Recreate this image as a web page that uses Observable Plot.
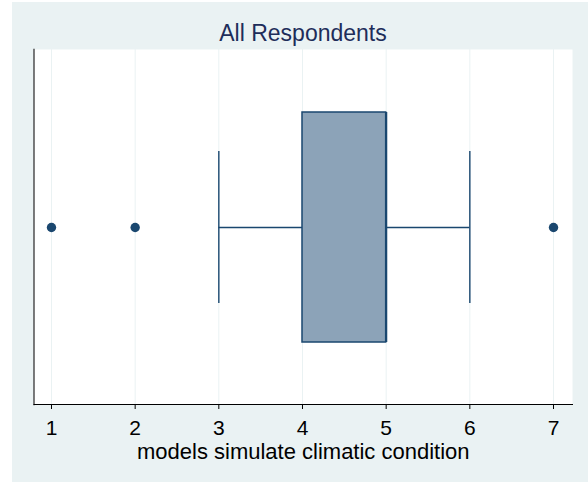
<!DOCTYPE html>
<html>
<head>
<meta charset="utf-8">
<script src="https://cdn.jsdelivr.net/npm/d3@7"></script>
<script src="https://cdn.jsdelivr.net/npm/@observablehq/plot@0.6"></script>
<style>
  html, body { margin: 0; padding: 0; background: #ffffff; }
  #wrap { position: absolute; left: 12px; top: 2px; width: 576px; height: 480px; background: #EAF2F3; font-family: "Liberation Sans", Arial, sans-serif; }
  #title { position: absolute; left: 0; width: 576px; top: 20px; text-align: center; font-size: 23px; line-height: 23px; color: #1E2D5A; padding-left: 6px; box-sizing: border-box; }
  #chart { position: absolute; left: 0; top: 47px; }
</style>
</head>
<body>
<div id="wrap">
  <div id="title">All Respondents</div>
  <div id="chart"></div>
</div>
<script>
// ---- data ----
const groups = ["All Respondents"];
const q1 = [4];
const median = [5];
const q3 = [5];
const lowerWhisker = [3];
const upperWhisker = [6];
const outlierValues = [1, 2, 7];
const xTicks = [1, 2, 3, 4, 5, 6, 7];
const xLabel = "models simulate climatic condition";

const stats = groups.map((g, i) => ({
  group: g, q1: q1[i], median: median[i], q3: q3[i],
  lo: lowerWhisker[i], hi: upperWhisker[i]
}));
const outliers = outlierValues.map(v => ({group: groups[0], value: v}));

const navy = "#1A476F";
const boxFill = "#8CA3B8";
const gridCol = "#EAF2F3";

const chart = Plot.plot({
  width: 576,
  height: 433,
  marginLeft: 21.5,
  marginRight: 16,
  marginTop: 0,
  marginBottom: 78,
  style: {background: "transparent", fontFamily: "'Liberation Sans', Arial, sans-serif", overflow: "visible"},
  x: {domain: [0.791, 7.227], ticks: xTicks, label: null},
  y: {domain: groups, paddingInner: 0, paddingOuter: 0.2717, axis: null, label: null},
  marks: [
    Plot.frame({fill: "white", stroke: null}),
    Plot.gridX(xTicks, {stroke: gridCol, strokeOpacity: 1, strokeWidth: 1}),
    Plot.frame({anchor: "left", stroke: "#444", strokeWidth: 1.4}),
    Plot.frame({anchor: "bottom", stroke: "#000", strokeWidth: 1}),
    Plot.axisX(xTicks, {
      tickSize: 5, tickPadding: 11, fontSize: 21, stroke: "#000", fill: "#000"
    }),
    Plot.axisX({
      ticks: [], tickSize: 0, fontSize: 22, fill: "#000",
      label: xLabel, labelAnchor: "center", labelOffset: 54, labelArrow: "none"
    }),
    // whiskers
    Plot.ruleY(stats, {y: "group", x1: "lo", x2: "q1", stroke: navy, strokeWidth: 1.4}),
    Plot.ruleY(stats, {y: "group", x1: "q3", x2: "hi", stroke: navy, strokeWidth: 1.4}),
    // whisker caps
    Plot.tickX(stats, {x: "lo", y: "group", insetTop: 39, insetBottom: 39, stroke: navy, strokeWidth: 1.4}),
    Plot.tickX(stats, {x: "hi", y: "group", insetTop: 39, insetBottom: 39, stroke: navy, strokeWidth: 1.4}),
    // box
    Plot.barX(stats, {y: "group", x1: "q1", x2: "q3", fill: boxFill, stroke: navy, strokeWidth: 1.5}),
    // median
    Plot.tickX(stats, {x: "median", y: "group", stroke: navy, strokeWidth: 2.2}),
    // outliers
    Plot.dot(outliers, {x: "value", y: "group", r: 4.7, fill: navy, stroke: null})
  ]
});
document.getElementById("chart").appendChild(chart);
</script>
</body>
</html>
